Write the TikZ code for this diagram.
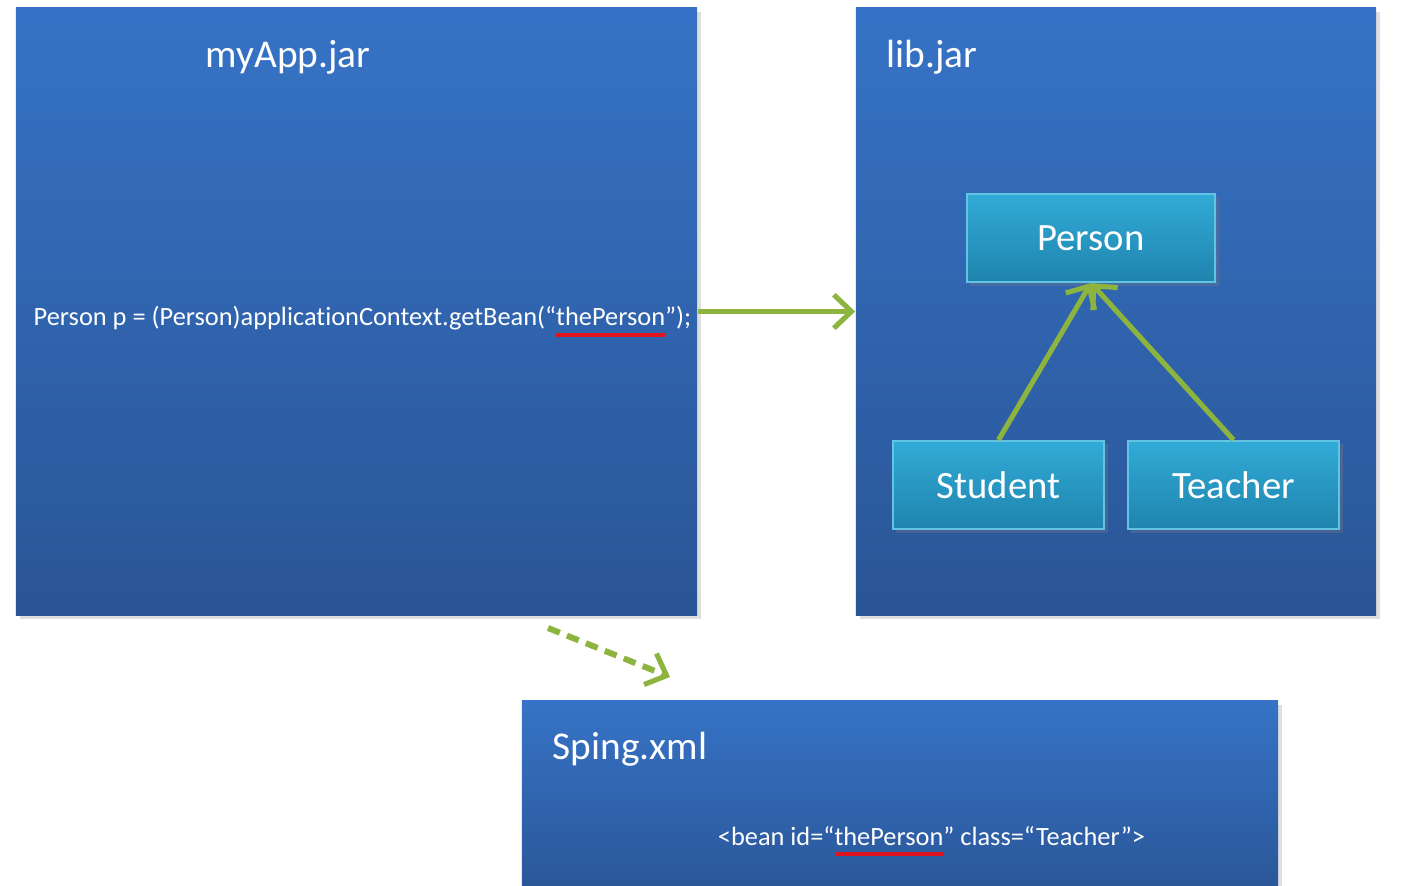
\documentclass[tikz,border=0pt]{standalone}
\usepackage{fontspec}
\setmainfont{Carlito}[Ligatures=NoCommon]
\usetikzlibrary{arrows.meta, shadows, positioning}
\definecolor{jartop}{HTML}{3673C6}
\definecolor{jarbottom}{HTML}{2A5596}
\definecolor{classtop}{HTML}{31ABD6}
\definecolor{classbottom}{HTML}{1F84AE}
\definecolor{classedge}{HTML}{63C3E3}
\definecolor{linkgreen}{HTML}{8CB43E}
\definecolor{markred}{HTML}{E0141E}
\newsavebox{\redlinebox}
\newcommand{\redline}[1]{\sbox{\redlinebox}{#1}%
	\rlap{\textcolor{markred}{\rule[-3.1pt]{\wd\redlinebox}{1.1pt}}}\usebox{\redlinebox}}
\tikzset{
	jarbox/.style={
			top color=jartop, bottom color=jarbottom, inner sep=0pt,
			drop shadow={shadow xshift=1.2pt, shadow yshift=-1.2pt, opacity=0.25}
		}
}
\tikzset{
	classbox/.style={
			top color=classtop, bottom color=classbottom, draw=classedge,
			line width=0.6pt, minimum height=0.88cm, text=white,
			font=\fontsize{11}{13}\selectfont,
			drop shadow={shadow xshift=1pt, shadow yshift=-1pt, opacity=0.3}
		}
}
\tikzset{
	bigtext/.style={font=\fontsize{11.2}{13}\selectfont, text=white, inner sep=0pt}
}
\tikzset{
	codetext/.style={font=\fontsize{7.5}{9}\selectfont, text=white, inner sep=0pt}
}
\tikzset{
	linkarrow/.style={draw=linkgreen, line width=1.45pt,
			-{Straight Barb[length=5pt, width=9.5pt, line width=1.45pt]}}
}

\begin{document}
\begin{tikzpicture}[x=0.01cm, y=-0.01cm]

	\useasboundingbox[fill=white] (0,0) rectangle (1404,886);

	\begin{scope}
		\node[jarbox, minimum width=6.81cm, minimum height=6.07cm] (myapp) at (356.5,311.5) {};
		\node[jarbox, minimum width=5.20cm, minimum height=6.07cm] (libjar) at (1116,311.5) {};
		\node[jarbox, minimum width=7.56cm, minimum height=2.00cm] (springxml) at (900,801) {};
	\end{scope}

	\begin{scope}
		\node[bigtext, anchor=base] (myapptitle) at (288,68) {myApp.jar};
		\node[bigtext, anchor=base west] (libjartitle) at (886,68) {lib.jar};
		\node[bigtext, anchor=base west] (xmltitle) at (552,759) {Sping.xml};
	\end{scope}

	\node[codetext, anchor=base west] (getbean) at (33,326)
	{Person p = (Person)applicationContext.getBean(“\redline{thePerson}”);};
	\node[codetext, anchor=base] (beandef) at (931.5,845)
	{<bean id=“\redline{thePerson}” class=“Teacher”>};

	\begin{scope}
		\node[classbox, minimum width=2.48cm] (person) at (1091,238) {Person};
		\node[classbox, minimum width=2.11cm] (student) at (998.5,485) {Student};
		\node[classbox, minimum width=2.11cm] (teacher) at (1233.5,485) {Teacher};
	\end{scope}

	\draw[linkarrow] (myapp.east) -- (libjar.west);
	\draw[linkarrow] (student.north) -- (person.south);
	\draw[linkarrow] (teacher.north) -- (person.south);

	\coordinate (xmlfrom) at (548,628);
	\coordinate (xmlto) at (670,677);
	\draw[linkarrow, line width=1.7pt, dash pattern=on 3.6pt off 2.2pt] (xmlfrom) -- (xmlto);

\end{tikzpicture}
\end{document}
